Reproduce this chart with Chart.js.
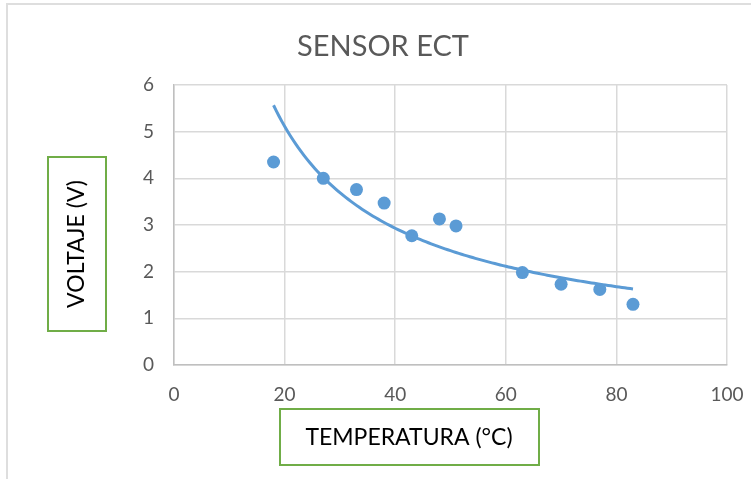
<!DOCTYPE html>
<html>
<head>
<meta charset="utf-8">
<script src="https://cdn.jsdelivr.net/npm/chart.js@4"></script>
<style>
  html, body { margin: 0; padding: 0; background: #fff; }
  #wrap { width: 751px; height: 479px; position: relative; }
</style>
</head>
<body>
<div id="wrap"><canvas id="chart" width="751" height="479"></canvas></div>
<script>
// temperature readings (°C) and sensor output (V)
const temperatura = [18, 27, 33, 38, 43, 48, 51, 63, 70, 77, 83];
const voltaje = [4.35, 4.0, 3.76, 3.47, 2.77, 3.13, 2.98, 1.98, 1.73, 1.62, 1.30];
const xTicks = [0, 20, 40, 60, 80, 100];
const yTicks = [0, 1, 2, 3, 4, 5, 6];

const blue = '#5B9BD5';
const fontFamily = 'Lato, "Open Sans", sans-serif';

// power trendline y = a * x^b, least squares on ln/ln
function powerFit(xs, ys) {
    const lx = xs.map(Math.log), ly = ys.map(Math.log);
    const n = xs.length;
    const mx = lx.reduce((s, v) => s + v, 0) / n;
    const my = ly.reduce((s, v) => s + v, 0) / n;
    let sxy = 0, sxx = 0;
    for (let i = 0; i < n; i++) {
        sxy += (lx[i] - mx) * (ly[i] - my);
        sxx += (lx[i] - mx) * (lx[i] - mx);
    }
    const b = sxy / sxx;
    return { a: Math.exp(my - b * mx), b: b };
}
const fit = powerFit(temperatura, voltaje);
const xMin = Math.min(...temperatura), xMax = Math.max(...temperatura);
const trend = [];
for (let x = xMin; x <= xMax; x += 0.5) {
    trend.push({ x: x, y: fit.a * Math.pow(x, fit.b) });
}

// frame, title and the boxed axis labels
const decorations = {
    id: 'decorations',
    beforeDraw(chart) {
        const ctx = chart.ctx;
        ctx.save();
        ctx.fillStyle = '#fff';
        ctx.fillRect(0, 0, chart.width, chart.height);
        ctx.strokeStyle = '#dedede';
        ctx.lineWidth = 2;
        ctx.strokeRect(7, 4, 760, 500);
        ctx.restore();
    },
    afterDraw(chart) {
        const ctx = chart.ctx;
        ctx.save();
        ctx.fillStyle = '#595959';
        ctx.font = '29px ' + fontFamily;
        ctx.textAlign = 'center';
        ctx.textBaseline = 'middle';
        ctx.fillText('SENSOR ECT', 383, 47);

        ctx.strokeStyle = '#70AD47';
        ctx.lineWidth = 2;
        ctx.font = '23px ' + fontFamily;

        ctx.fillStyle = '#fff';
        ctx.fillRect(280, 409, 259, 56);
        ctx.strokeRect(280, 409, 259, 56);
        ctx.fillStyle = '#000';
        ctx.fillText('TEMPERATURA (°C)', 409, 438);

        ctx.fillStyle = '#fff';
        ctx.fillRect(48, 157, 58, 174);
        ctx.strokeRect(48, 157, 58, 174);
        ctx.translate(77, 244);
        ctx.rotate(-Math.PI / 2);
        ctx.fillStyle = '#000';
        ctx.fillText('VOLTAJE (V)', 0, 0);
        ctx.restore();
    }
};

const ctx = document.getElementById('chart').getContext('2d');
new Chart(ctx, {
    type: 'scatter',
    data: {
        datasets: [
            {
                label: 'Tendencia',
                data: trend,
                showLine: true,
                borderColor: blue,
                borderWidth: 3,
                pointRadius: 0,
                tension: 0,
                fill: false
            },
            {
                label: 'Voltaje',
                data: temperatura.map((t, i) => ({ x: t, y: voltaje[i] })),
                backgroundColor: blue,
                borderColor: blue,
                pointRadius: 6.5,
                pointBorderWidth: 0
            }
        ]
    },
    options: {
        responsive: false,
        animation: false,
        layout: { padding: { top: 85, right: 24, left: 0, bottom: 0 } },
        plugins: {
            legend: { display: false },
            tooltip: { enabled: false }
        },
        scales: {
            x: {
                type: 'linear',
                min: 0,
                max: 100,
                afterBuildTicks: (scale) => { scale.ticks = xTicks.map(v => ({ value: v })); },
                afterFit: (scale) => {
                    scale.height = 114;
                    scale.paddingLeft = 0;
                    scale.paddingRight = 0;
                },
                grid: { color: '#d9d9d9', lineWidth: 1.5, drawTicks: false },
                border: { color: '#bfbfbf', width: 1.5 },
                ticks: { color: '#595959', font: { family: fontFamily, size: 19 }, padding: 18 }
            },
            y: {
                type: 'linear',
                min: 0,
                max: 6,
                afterBuildTicks: (scale) => { scale.ticks = yTicks.map(v => ({ value: v })); },
                afterFit: (scale) => {
                    scale.width = 174;
                    scale.paddingTop = 0;
                    scale.paddingBottom = 0;
                },
                grid: { color: '#d9d9d9', lineWidth: 1.5, drawTicks: false },
                border: { color: '#bfbfbf', width: 1.5 },
                ticks: { color: '#595959', font: { family: fontFamily, size: 19 }, padding: 20 }
            }
        }
    },
    plugins: [decorations]
});
</script>
</body>
</html>
